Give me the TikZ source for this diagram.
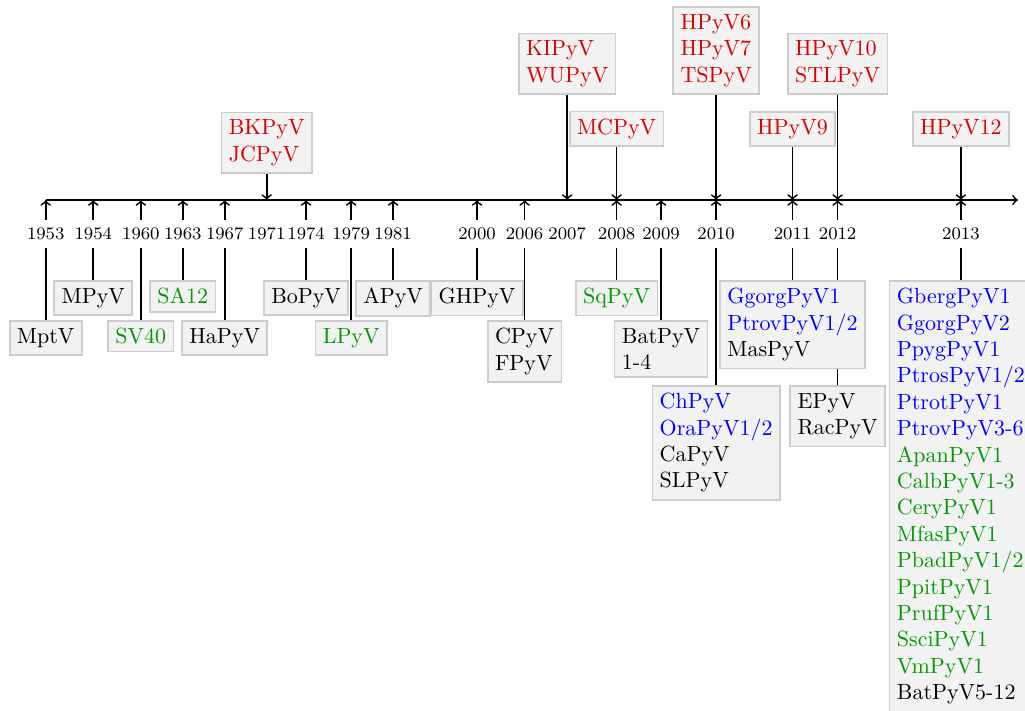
\documentclass[tikz,border=0pt]{standalone}
\usepackage{tikz}
\usetikzlibrary{backgrounds}
\colorlet{hum}{red!85!black}
\colorlet{ape}{blue}
\colorlet{mon}{green!60!black}
\begin{document}
\begin{tikzpicture}[>=to,
    box/.style={draw=gray!40,thick,fill=gray!10,align=left},
    yr/.style={font=\footnotesize}]
    \useasboundingbox (0,-8.147) rectangle (16.374,3.195);
    \foreach \y/\x in {1953/0.73, 1954/1.49, 1960/2.25, 1963/2.92, 1967/3.59, 1971/4.26, 1974/4.89, 1979/5.61, 1981/6.28, 2000/7.62, 2006/8.38, 2007/9.06, 2008/9.85, 2009/10.56, 2010/11.44, 2011/12.66, 2012/13.38, 2013/15.35} {
        \coordinate (a\y) at (\x,0);
        \node[yr] (y\y) at (\x,-0.54) {\y};
    }
    \coordinate (aend) at (16.26,0);
    \draw[->,thick] (a1953) -- (aend);
    % above the axis
    \node[box,anchor=south,text=hum] (t1971) at (4.26,0.415) {BKPyV\\JCPyV};
    \node[box,anchor=south,text=hum] (t2007) at (9.06,1.677) {KIPyV\\WUPyV};
    \node[box,anchor=south,text=hum] (t2008) at (9.85,0.847) {MCPyV};
    \node[box,anchor=south,text=hum] (t2010) at (11.44,1.677) {HPyV6\\HPyV7\\TSPyV};
    \node[box,anchor=south,text=hum] (t2011) at (12.66,0.847) {HPyV9};
    \node[box,anchor=south,text=hum] (t2012) at (13.38,1.677) {HPyV10\\STLPyV};
    \node[box,anchor=south,text=hum] (t2013) at (15.35,0.847) {HPyV12};
    % below the axis
    \node[box,anchor=north] (b1953) at (0.73,-1.917) {MptV};
    \node[box,anchor=north] (b1954) at (1.49,-1.278) {MPyV};
    \node[box,anchor=north,text=mon] (b1960) at (2.25,-1.917) {SV40};
    \node[box,anchor=north,text=mon] (b1963) at (2.92,-1.278) {SA12};
    \node[box,anchor=north] (b1967) at (3.59,-1.917) {HaPyV};
    \node[box,anchor=north] (b1974) at (4.89,-1.278) {BoPyV};
    \node[box,anchor=north,text=mon] (b1979) at (5.61,-1.917) {LPyV};
    \node[box,anchor=north] (b1981) at (6.28,-1.278) {APyV};
    \node[box,anchor=north] (b2000) at (7.62,-1.278) {GHPyV};
    \node[box,anchor=north] (b2006) at (8.38,-1.917) {CPyV\\FPyV};
    \node[box,anchor=north,text=mon] (b2008) at (9.85,-1.278) {SqPyV};
    \node[box,anchor=north] (b2009) at (10.56,-1.917) {BatPyV\\1-4};
    \node[box,anchor=north] (b2010) at (11.44,-2.955) {\textcolor{ape}{ChPyV}\\\textcolor{ape}{OraPyV1/2}\\CaPyV\\SLPyV};
    \node[box,anchor=north] (b2011) at (12.66,-1.278) {\textcolor{ape}{GgorgPyV1}\\\textcolor{ape}{PtrovPyV1/2}\\MasPyV};
    \node[box,anchor=north] (b2012) at (13.38,-2.955) {EPyV\\RacPyV};
    \node[box,anchor=north] (b2013) at (15.35,-1.278) {\textcolor{ape}{GbergPyV1}\\\textcolor{ape}{GgorgPyV2}\\\textcolor{ape}{PpygPyV1}\\\textcolor{ape}{PtrosPyV1/2}\\\textcolor{ape}{PtrotPyV1}\\\textcolor{ape}{PtrovPyV3-6}\\\textcolor{mon}{ApanPyV1}\\\textcolor{mon}{CalbPyV1-3}\\\textcolor{mon}{CeryPyV1}\\\textcolor{mon}{MfasPyV1}\\\textcolor{mon}{PbadPyV1/2}\\\textcolor{mon}{PpitPyV1}\\\textcolor{mon}{PrufPyV1}\\\textcolor{mon}{SsciPyV1}\\\textcolor{mon}{VmPyV1}\\BatPyV5-12};
    \begin{scope}[on background layer]
    \foreach \y in {1953,1954,1960,1963,1967,1974,1979,1981,2000,2006,2008,2009,2010,2011,2012,2013} {
        \draw[->,thick] (y\y) -- (a\y);
        \draw[thick] (y\y) -- (b\y);
    }
    \foreach \y in {1971,2007,2008,2010,2011,2012,2013} \draw[->,thick] (t\y) -- (a\y);
    \end{scope}
\end{tikzpicture}
\end{document}
